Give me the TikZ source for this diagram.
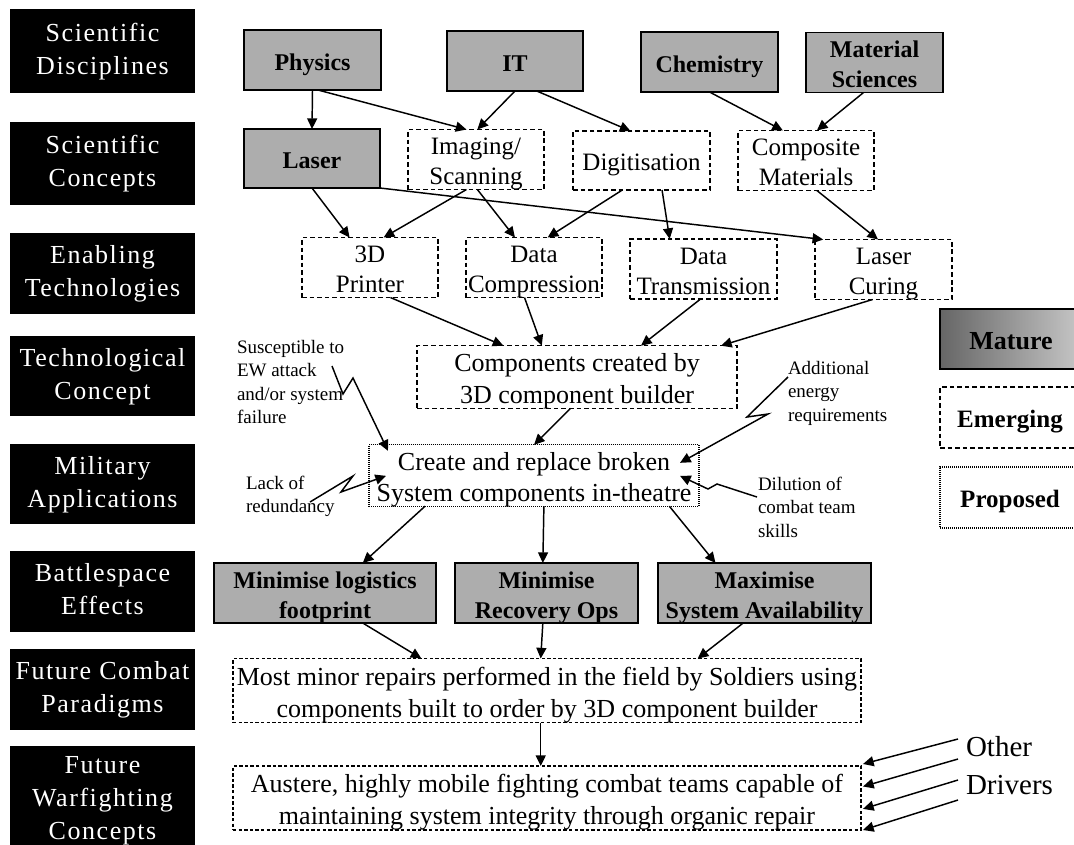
\documentclass[tikz,border=0pt]{standalone}
\usepackage{fontspec}
\setmainfont{Liberation Serif}
\newfontfamily\lblfont[LetterSpace=6]{Liberation Serif}
\usetikzlibrary{arrows.meta,calc}
\tikzset{tshift/.store in=\tshiftval, tshift=-3.2pt}
\newcommand\bnode[7]{%
  \node[#2, minimum width={(#5-#3)*0.75pt}, minimum height={(#6-#4)*0.75pt}] (#1) at ({(#3+#5)/2},{(#4+#6)/2}) {\raisebox{\tshiftval}[\height][\depth]{\begin{tabular}{@{}c@{}}#7\end{tabular}}};}
\newcommand\conn[5][arr]{%
  \draw[#1] ($(#2.south west)!#3!(#2.south east)$) -- ($(#4.north west)!#5!(#4.north east)$);}
\begin{document}
\begin{tikzpicture}[x=0.75pt,y=-0.75pt,
  every node/.style={inner sep=0pt, outer sep=0pt, align=center},
  lbl/.style={fill=black, text=white, tshift=0pt, font=\lblfont\fontsize{19.5}{24.75}\selectfont},
  mature/.style={draw=black, line width=1.4pt, fill=black!32, font=\bfseries\fontsize{18}{22.5}\selectfont},
  emerging/.style={draw=black, line width=1.1pt, dash pattern=on 3.5pt off 2.2pt, font=\fontsize{18.75}{22.5}\selectfont},
  proposed/.style={draw=black, line width=0.8pt, dash pattern=on 0.75pt off 0.75pt, font=\fontsize{19.5}{23}\selectfont},
  finebox/.style={draw=black, line width=0.9pt, dash pattern=on 2.6pt off 1.6pt, font=\fontsize{19.5}{24}\selectfont},
  note/.style={align=left, anchor=north west, font=\fontsize{14.25}{17.6}\selectfont},
  drvtext/.style={anchor=west, font=\fontsize{21.75}{26}\selectfont},
  arr/.style={line width=1.1pt, -{Triangle[length=8pt,width=7.5pt]}},
]
\useasboundingbox (0,0) rectangle (1074,844);
\clip (0,0) rectangle (1074,844);
\fill[white] (0,0) rectangle (1074,844);

% left column labels
\bnode{l1}{lbl}{10}{9}{195}{93}{Scientific\\Disciplines}
\bnode{l2}{lbl}{10}{122}{195}{205}{Scientific\\Concepts}
\bnode{l3}{lbl}{10}{233}{195}{314}{Enabling\\Technologies}
\bnode{l4}{lbl}{10}{336}{195}{416}{Technological\\Concept}
\bnode{l5}{lbl}{10}{444}{195}{524}{Military\\Applications}
\bnode{l6}{lbl}{10}{551}{195}{632}{Battlespace\\Effects}
\bnode{l7}{lbl}{10}{649}{195}{730}{Future Combat\\Paradigms}
\bnode{l8}{lbl, tshift=2.5pt}{10}{746}{195}{860}{Future\\Warfighting\\Concepts}

% row 1
\bnode{phys}{mature}{244}{30}{381}{90}{Physics}
\bnode{it}{mature}{447}{31}{583}{91}{IT}
\bnode{chem}{mature}{641}{32}{778}{92}{Chemistry}
\bnode{mat}{mature}{806}{33}{943}{92}{Material\\Sciences}
% row 2
\bnode{laser}{mature}{244}{129}{380}{188}{Laser}
\bnode{img}{emerging}{408}{130}{544}{189}{Imaging/\\Scanning}
\bnode{dig}{emerging}{573}{131}{710}{190}{Digitisation}
\bnode{comp}{emerging}{738}{131}{874}{190}{Composite\\Materials}
% row 3
\bnode{printer}{emerging}{302}{238}{438}{297}{3D\\Printer}
\bnode{dcomp}{emerging}{466}{238}{602}{297}{Data\\Compression}
\bnode{dtrans}{emerging}{630}{239}{777}{299}{Data\\Transmission}
\bnode{curing}{emerging}{815}{240}{952}{299}{Laser\\Curing}
% lower rows
\bnode{cc}{emerging, font=\fontsize{19.5}{23.5}\selectfont}{417}{347}{737}{407}{Components created by\\3D component builder}
\bnode{cr}{proposed}{369}{446}{699}{505}{Create and replace broken\\System components in-theatre}
\bnode{ml}{mature}{214}{563}{436}{623}{Minimise logistics\\footprint}
\bnode{mr}{mature}{455}{563}{638}{623}{Minimise\\Recovery Ops}
\bnode{mx}{mature}{658}{563}{871}{623}{Maximise\\System Availability}
\bnode{mm}{finebox}{233}{660}{861}{721}{Most minor repairs performed in the field by Soldiers using\\components built to order by 3D component builder}
\bnode{au}{finebox}{233}{768}{861}{828}{Austere, highly mobile fighting combat teams capable of\\maintaining system integrity through organic repair}

% legend
\bnode{lgm}{mature, left color=black!60, right color=black!22, font=\bfseries\fontsize{19.5}{23}\selectfont}{940}{309}{1082}{369}{Mature}
\bnode{lge}{emerging, font=\bfseries\fontsize{18.75}{23}\selectfont}{940}{387}{1080}{448}{Emerging}
\bnode{lgp}{proposed, font=\bfseries\fontsize{18.75}{23}\selectfont}{940}{467}{1080}{528}{Proposed}

% connectors
\conn{phys}{0.5}{laser}{0.5}
\conn{phys}{0.54}{img}{0.43}
\conn{it}{0.5}{img}{0.51}
\conn{it}{0.66}{dig}{0.42}
\conn{chem}{0.5}{comp}{0.33}
\conn{mat}{0.42}{comp}{0.58}
\conn{laser}{0.5}{printer}{0.35}
\conn{laser}{1}{curing}{0.06}
\conn{img}{0.43}{printer}{0.6}
\conn{img}{0.51}{dcomp}{0.36}
\conn{dig}{0.36}{dcomp}{0.6}
\conn{dig}{0.65}{dtrans}{0.27}
\conn{comp}{0.58}{curing}{0.46}
\conn{printer}{0.65}{cc}{0.27}
\conn{dcomp}{0.43}{cc}{0.39}
\conn{dtrans}{0.48}{cc}{0.70}
\conn{curing}{0.42}{cc}{0.95}
\conn{cc}{0.48}{cr}{0.5}
\conn{cr}{0.17}{ml}{0.67}
\conn{cr}{0.53}{mr}{0.48}
\conn{cr}{0.91}{mx}{0.27}
\conn{ml}{0.67}{mm}{0.30}
\conn{mr}{0.48}{mm}{0.49}
\conn{mx}{0.40}{mm}{0.74}
\conn{mm}{0.49}{au}{0.49}

% notes
\node[note] (susc) at (237,340) {Susceptible to\\EW attack\\and/or system\\failure};
\node[note] (lack) at (246,476) {Lack of\\redundancy};
\node[note] (addl) at (788,361) {Additional\\energy\\requirements};
\node[note] (dil) at (758,477) {Dilution of\\combat team\\skills};
\node[drvtext] (oth) at (966,747) {Other};
\node[drvtext] (drv) at (966,785) {Drivers};

% lightning connectors
\coordinate (s1) at (332,366); \coordinate (s1a) at (343,394); \coordinate (s1b) at (353,378);
\draw[arr] (s1) -- (s1a) -- (s1b) -- ($(cr.north west)+(19,6)$);
\coordinate (s2) at (310,502); \coordinate (s2a) at (353,476); \coordinate (s2b) at (341,492);
\draw[arr] (s2) -- (s2a) -- (s2b) -- ($(cr.north west)+(17,31)$);
\coordinate (s3) at (788,377); \coordinate (s3a) at (747,417); \coordinate (s3b) at (768,414);
\draw[arr] (s3) -- (s3a) -- (s3b) -- ($(cr.north east)+(-19,18)$);
\coordinate (s4) at (757,497); \coordinate (s4a) at (717,484); \coordinate (s4b) at (708,489);
\draw[arr] (s4) -- (s4a) -- (s4b) -- ($(cr.north east)+(-19,31)$);

% other drivers
\coordinate (od1) at (958,739); \coordinate (od2) at (958,759);
\coordinate (od3) at (958,780); \coordinate (od4) at (958,800);
\draw[arr] (od1) -- ($(au.north east)+(2,-2)$);
\draw[arr] (od2) -- ($(au.north east)!0.32!(au.south east)+(2,0)$);
\draw[arr] (od3) -- ($(au.north east)!0.67!(au.south east)+(2,0)$);
\draw[arr] (od4) -- ($(au.south east)+(2,0)$);
\end{tikzpicture}
\end{document}
